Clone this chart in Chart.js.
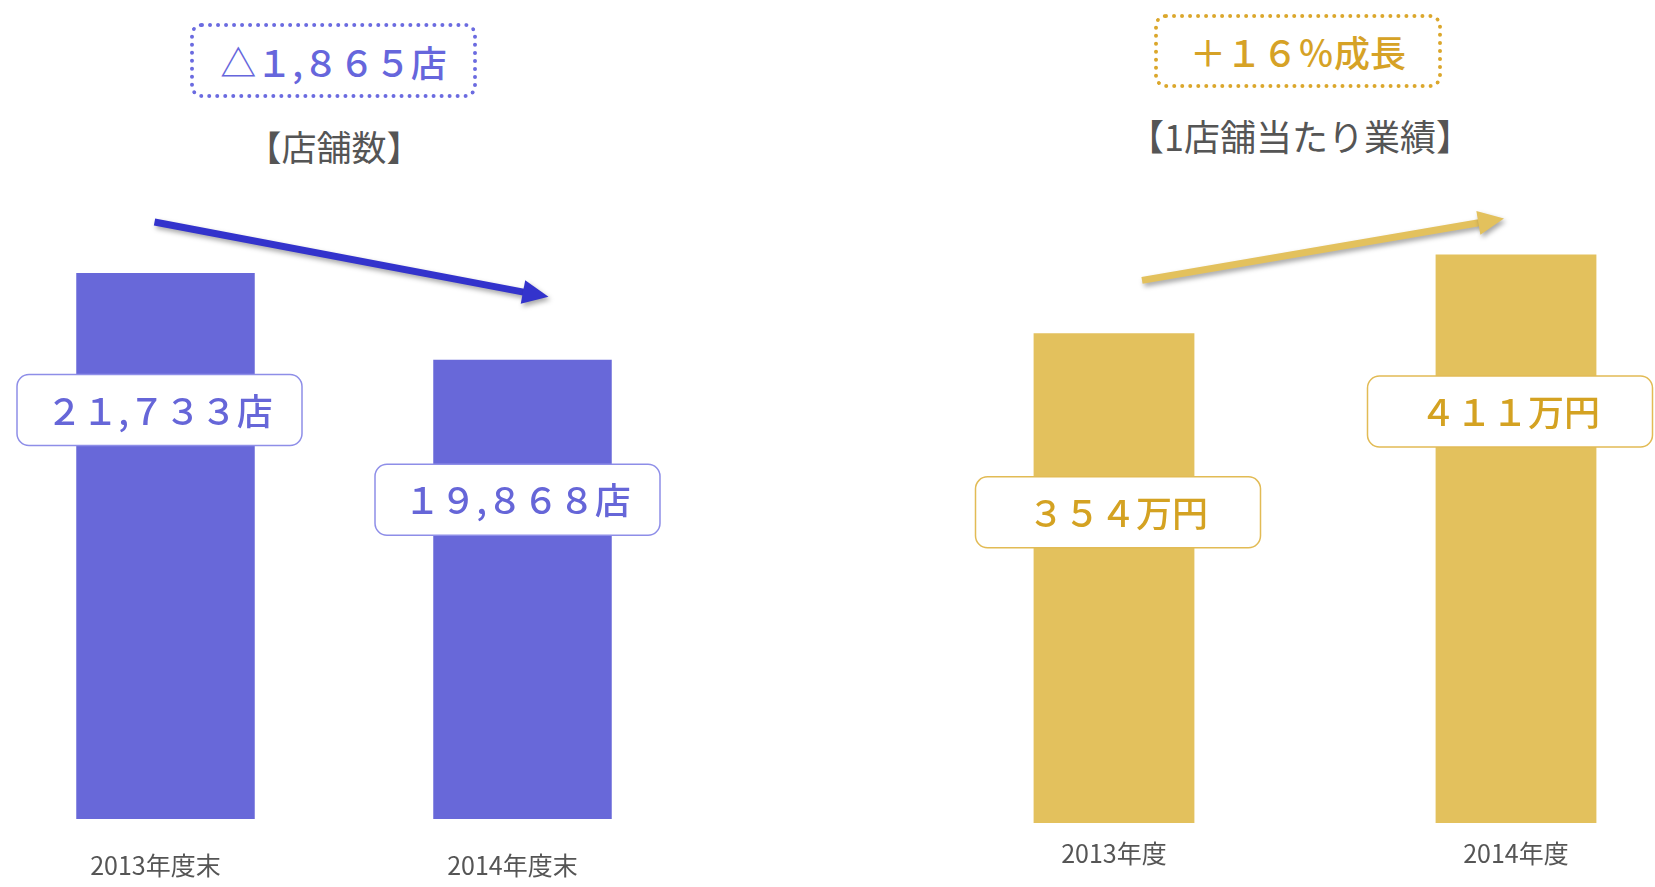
<!DOCTYPE html>
<html lang="ja">
<head>
<meta charset="utf-8">
<title>店舗数と1店舗当たり業績</title>
<script src="https://cdn.jsdelivr.net/npm/chart.js@4.4.1/dist/chart.umd.min.js"></script>
<style>
  html, body { margin: 0; padding: 0; background: #fff; overflow: hidden; }
  body { position: relative; width: 1655px; height: 887px; font-family: "Noto Sans CJK JP", "Noto Sans", sans-serif; }
  .wrap { position: absolute; top: 0; }
  .badge {
    position: absolute; box-sizing: border-box;
    border: 4px dotted; border-radius: 12px;
    display: flex; align-items: center; justify-content: center;
    font-size: 36px; font-weight: 500; white-space: nowrap;
  }
  .title { position: absolute; transform: translate(-50%, -50%); color: #555; white-space: nowrap; }
</style>
</head>
<body>

<div class="badge" id="storeBadge" style="left:190px; top:23px; width:287px; height:75px; color:#6666dc; border-color:#6b6be0;"></div>
<div class="title" style="left:334px; top:145px; font-size:35px;">【店舗数】</div>

<div class="badge" id="salesBadge" style="left:1154px; top:14px; width:288px; height:74px; color:#d6a226; border-color:#dba72c;"></div>
<div class="title" style="left:1300px; top:135px; font-size:36px;">【1店舗当たり業績】</div>

<div class="wrap" style="left:-13px; width:714px; height:911px;"><canvas id="storeChart"></canvas></div>
<div class="wrap" style="left:913px; width:804px; height:887px;"><canvas id="salesChart"></canvas></div>

<script>
// ─────────────────────────────
// Data
// ─────────────────────────────
const storeLabels = ['2013年度末', '2014年度末'];
const storeCounts = [21733, 19868];          // 店
const storeRange = [10000, 27600];

const salesLabels = ['2013年度', '2014年度'];
const salesPerStore = [354, 411];            // 万円
const salesRange = [0, 595];

// ─────────────────────────────
// Helpers
// ─────────────────────────────
function toFullWidth(s) {
  return s.replace(/[0-9]/g, d => String.fromCharCode(d.charCodeAt(0) + 0xFEE0));
}

const storeText = storeCounts.map(n => toFullWidth(n.toLocaleString('en-US')) + '店');
const salesText = salesPerStore.map(n => toFullWidth(String(n)) + '万円');

document.getElementById('storeBadge').textContent =
  '△' + toFullWidth((storeCounts[0] - storeCounts[1]).toLocaleString('en-US')) + '店';
document.getElementById('salesBadge').textContent =
  '＋' + toFullWidth(String(Math.round((salesPerStore[1] / salesPerStore[0] - 1) * 100))) + '％成長';

// arrow + value boxes on top of the bars
const callouts = {
  id: 'callouts',
  afterDatasetsDraw(chart, args, opts) {
    const ctx = chart.ctx;
    const bars = chart.getDatasetMeta(0).data;

    // arrow
    const a = bars[0], b = bars[1];
    const x1 = a.x + opts.arrowFrom[0], y1 = a.y + opts.arrowFrom[1];
    const x2 = b.x + opts.arrowTo[0], y2 = b.y + opts.arrowTo[1];
    const ang = Math.atan2(y2 - y1, x2 - x1);
    const head = 26, half = 12;
    const bx = x2 - head * Math.cos(ang), by = y2 - head * Math.sin(ang);

    ctx.save();
    ctx.shadowColor = 'rgba(0,0,0,0.35)';
    ctx.shadowBlur = 5;
    ctx.shadowOffsetX = 2;
    ctx.shadowOffsetY = 3;
    ctx.strokeStyle = opts.arrowColor;
    ctx.fillStyle = opts.arrowColor;
    ctx.lineWidth = 7;
    ctx.beginPath();
    ctx.moveTo(x1, y1);
    ctx.lineTo(bx + 2 * Math.cos(ang), by + 2 * Math.sin(ang));
    ctx.stroke();
    ctx.beginPath();
    ctx.moveTo(x2, y2);
    ctx.lineTo(bx - half * Math.sin(ang), by + half * Math.cos(ang));
    ctx.lineTo(bx + half * Math.sin(ang), by - half * Math.cos(ang));
    ctx.closePath();
    ctx.fill();
    ctx.restore();

    // value boxes
    bars.forEach((bar, i) => {
      const cx = bar.x + opts.dx[i];
      const cy = bar.y + opts.dy[i];
      const w = 285, h = 71;
      ctx.save();
      ctx.beginPath();
      ctx.roundRect(cx - w / 2, cy - h / 2, w, h, 12);
      ctx.fillStyle = '#fff';
      ctx.fill();
      ctx.lineWidth = 1.5;
      ctx.strokeStyle = opts.boxBorder;
      ctx.stroke();
      ctx.fillStyle = opts.textColor;
      ctx.font = '500 36px "Noto Sans CJK JP"';
      ctx.textAlign = 'center';
      ctx.textBaseline = 'middle';
      ctx.fillText(opts.texts[i], cx, cy + 1);
      ctx.restore();
    });
  }
};

function makeChart(id, labels, values, range, color, catPct, tickPad, tickShift, padBottom, calloutOpts) {
  return new Chart(document.getElementById(id).getContext('2d'), {
    type: 'bar',
    data: {
      labels: labels,
      datasets: [{
        data: values,
        backgroundColor: color,
        borderWidth: 0,
        barPercentage: 1,
        categoryPercentage: catPct
      }]
    },
    options: {
      responsive: true,
      maintainAspectRatio: false,
      animation: false,
      layout: { padding: { top: 0, bottom: padBottom, left: 0, right: 0 } },
      plugins: {
        legend: { display: false },
        tooltip: { enabled: false },
        callouts: calloutOpts
      },
      scales: {
        x: {
          grid: { display: false, drawTicks: false },
          border: { display: false },
          ticks: {
            color: '#555',
            font: { size: 25, family: '"Noto Sans CJK JP"' },
            padding: tickPad,
            labelOffset: tickShift
          }
        },
        y: {
          display: false,
          min: range[0],
          max: range[1]
        }
      }
    },
    plugins: [callouts]
  });
}

makeChart('storeChart', storeLabels, storeCounts, storeRange, '#6868d9', 0.5, 31, -10, 0, {
  texts: storeText,
  textColor: '#6666d8',
  boxBorder: '#8e8ee8',
  dx: [-6, -5],
  dy: [137, 140],
  arrowColor: '#3333cc',
  arrowFrom: [-11, -51],
  arrowTo: [26, -63]
});

makeChart('salesChart', salesLabels, salesPerStore, salesRange, '#e3c15d', 0.4, 15, 0, 4, {
  texts: salesText,
  textColor: '#d4a222',
  boxBorder: '#e2bb55',
  dx: [4, -6],
  dy: [179, 157],
  arrowColor: '#e3c15d',
  arrowFrom: [28, -53],
  arrowTo: [-12, -36]
});
</script>
</body>
</html>
